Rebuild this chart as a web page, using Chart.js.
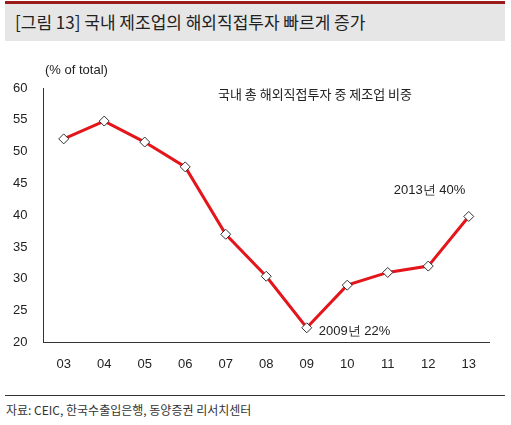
<!DOCTYPE html>
<html><head><meta charset="utf-8">
<script src="https://cdn.jsdelivr.net/npm/chart.js@4"></script>
<style>
body{margin:0;width:511px;height:425px;background:#fff;font-family:"Noto Sans CJK KR",sans-serif;position:relative;overflow:hidden}
#t{position:absolute;left:5px;top:1px;width:500px;height:40px;background:#e6e6e6;border-top:3px solid #9b1b1b;box-sizing:border-box;font-size:17px;line-height:36px;padding-left:10px;color:#222}
#c{position:absolute;left:0;top:50px;width:511px;height:328px}
#hr{position:absolute;left:5px;top:395px;width:500px;border-top:1px solid #333}
#s{position:absolute;left:6px;top:401px;font-size:12px;color:#333}
</style></head><body>
<div id="t">[그림 13] 국내 제조업의 해외직접투자 빠르게 증가</div>
<div id="c"><canvas id="cv"></canvas></div>
<div id="hr"></div>
<div id="s">자료: CEIC, 한국수출입은행, 동양증권 리서치센터</div>
<script>
const categories=["03","04","05","06","07","08","09","10","11","12","13"];
const values=[52,54.8,51.5,47.6,37,30.4,22.3,29,31,32,39.8];
const yTicks=[20,25,30,35,40,45,50,55,60];
const font={family:"Liberation Sans, Arial, sans-serif",size:13};
const notes={
 id:'notes',
 afterDraw(ch){
  const c=ch.ctx,x=ch.scales.x,y=ch.scales.y;
  c.save();c.fillStyle='#222';c.font='13px Liberation Sans, sans-serif';
  c.fillText('(% of total)',45,24);
  c.font='13px "Noto Sans CJK KR"';
  c.fillText('국내 총 해외직접투자 중 제조업 비중',218,49);
  c.font='13px Liberation Sans, sans-serif';
  c.fillText('2009년 22%',x.getPixelForValue(6)+12,y.getPixelForValue(values[6])+7);
  c.fillText('2013년 40%',x.getPixelForValue(10)-75,y.getPixelForValue(values[10])-22);
  c.restore();
 }};
new Chart(document.getElementById('cv'),{
 type:'line',
 data:{labels:categories,datasets:[{data:values,borderColor:'#e3161b',borderWidth:3,pointStyle:'rectRot',pointRadius:5,pointBackgroundColor:'#fff',pointBorderColor:'#333',pointBorderWidth:1,tension:0}]},
 options:{responsive:true,maintainAspectRatio:false,animation:false,
  layout:{padding:{top:38,right:22,left:5,bottom:0}},
  plugins:{legend:{display:false},tooltip:{enabled:false}},
  scales:{
   x:{offset:true,grid:{display:false,offset:true},border:{color:'#333'},ticks:{color:'#222',font,padding:6}},
   y:{min:20,max:60,afterBuildTicks:a=>{a.ticks=yTicks.map(v=>({value:v}))},
      grid:{display:false},border:{color:'#333'},ticks:{color:'#222',font,padding:8}}
  }},
 plugins:[notes]});
</script></body></html>
